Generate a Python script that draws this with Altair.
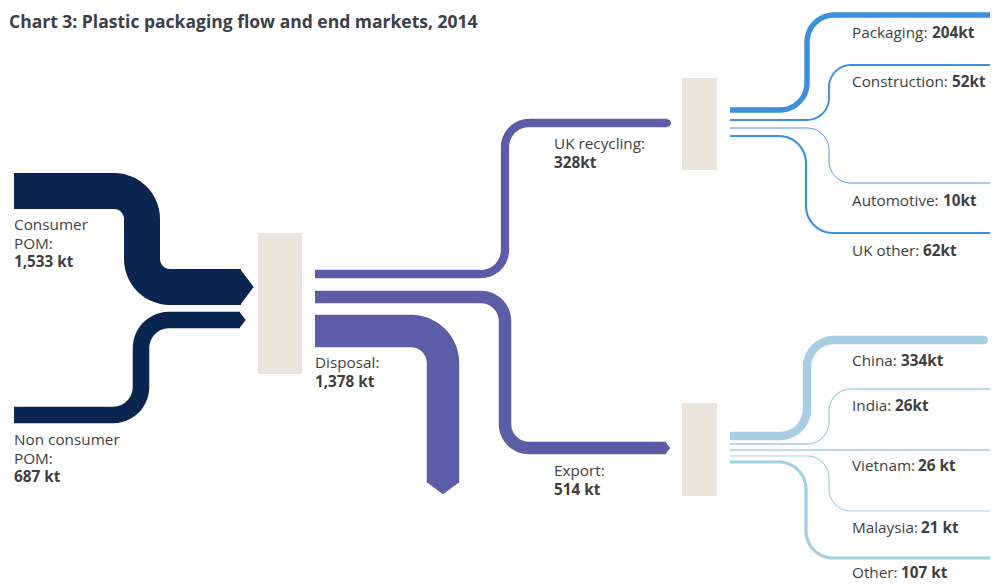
import altair as alt
import numpy as np
import pandas as pd

# ---------------- data ----------------
FLOW_NAMES = ["Consumer POM", "Non consumer POM", "Disposal", "UK recycling", "Export",
              "Packaging", "Construction", "Automotive", "UK other",
              "China", "India", "Vietnam", "Malaysia", "Other"]
FLOW_VALUES = [1533, 687, 1378, 328, 514, 204, 52, 10, 62, 334, 26, 26, 21, 107]
FLOW_GROUP = ["input", "input", "sorted", "sorted", "sorted",
              "uk", "uk", "uk", "uk",
              "export", "export", "export", "export", "export"]
VALUE_LABELS = ["1,533 kt", "687 kt", "1,378 kt", "328kt", "514 kt",
                "204kt", "52kt", "10kt", "62kt",
                "334kt", "26kt", "26 kt", "21 kt", "107 kt"]
LABEL_NAMES = [["Consumer", "POM:"], ["Non consumer", "POM:"], ["Disposal:"], ["UK recycling:"], ["Export:"],
               ["Packaging:"], ["Construction:"], ["Automotive:"], ["UK other:"],
               ["China:"], ["India:"], ["Vietnam:"], ["Malaysia:"], ["Other:"]]
TITLE = "Chart 3: Plastic packaging flow and end markets, 2014"

GROUP_DOMAIN = ["input", "sorted", "uk", "export", "node"]
GROUP_COLORS = ["#0b2551", "#5b5ea6", "#3d8fdb", "#a7cee3", "#e9e5dc"]

# ---------------- layout (pixel space of the picture) ----------------
ROUTES = {
    "Consumer POM": ([(14, 191), (142, 191), (142, 287), (241, 287)], 28),
    "Non consumer POM": ([(14, 415), (141, 415), (141, 320), (240, 320)], 28),
    "Disposal": ([(315, 331), (443, 331), (443, 483)], 32),
    "UK recycling": ([(315, 274), (505, 274), (505, 123), (667, 123)], 24),
    "Export": ([(315, 297), (505, 297), (505, 448), (666, 448)], 24),
    "Packaging": ([(730, 110), (807, 110), (807, 15), (1005, 15)], 27),
    "Construction": ([(730, 120), (829, 120), (829, 65), (1005, 65)], 22),
    "Automotive": ([(730, 128), (829, 128), (829, 183), (1005, 183)], 22),
    "UK other": ([(730, 136), (806, 136), (806, 233), (1005, 233)], 27),
    "China": ([(730, 436), (807, 436), (807, 340), (984, 340)], 27),
    "India": ([(730, 444), (829, 444), (829, 389), (1005, 389)], 22),
    "Vietnam": ([(730, 450), (1005, 450)], 22),
    "Malaysia": ([(730, 456), (829, 456), (829, 511), (1005, 511)], 22),
    "Other": ([(730, 462), (806, 462), (806, 558), (1005, 558)], 27),
}
END_STYLE = {"Consumer POM": "right", "Non consumer POM": "right", "Disposal": "down",
             "Export": "right", "UK recycling": "round", "China": "round"}
NODES = [(258, 302, 233, 374), (682, 717, 78, 170), (682, 717, 403, 496)]
RX = 852
LABEL_POS = {
    "Consumer POM": (14, 225), "Non consumer POM": (14, 440), "Disposal": (315, 363),
    "UK recycling": (554, 144), "Export": (554, 471),
    "Packaging": (RX, 33, 932), "Construction": (RX, 82, 952), "Automotive": (RX, 201, 943),
    "UK other": (RX, 251, 923), "China": (RX, 361, 901), "India": (RX, 406, 895),
    "Vietnam": (RX, 466, 918), "Malaysia": (RX, 528, 921), "Other": (RX, 573, 901),
}
LINE_GAP = 18.5


def rounded(pts, r, n=14):
    pts = [np.array(p, dtype=float) for p in pts]
    out = [pts[0]]
    for i in range(1, len(pts) - 1):
        p0, p1, p2 = pts[i - 1], pts[i], pts[i + 1]
        d1 = (p1 - p0) / np.linalg.norm(p1 - p0)
        d2 = (p2 - p1) / np.linalg.norm(p2 - p1)
        a = p1 - d1 * r
        c = a + d2 * r
        for t in np.linspace(0, np.pi / 2, n):
            out.append(c - d2 * r * np.cos(t) + d1 * r * np.sin(t))
    out.append(pts[-1])
    return out


line_rows, end_rows, text_rows = [], [], []
for name, val, grp, vlab, lnames in zip(FLOW_NAMES, FLOW_VALUES, FLOW_GROUP, VALUE_LABELS, LABEL_NAMES):
    pts, r = ROUTES[name]
    for i, p in enumerate(rounded(pts, r)):
        line_rows.append({"flow": name, "i": i, "x": p[0], "y": p[1], "value": val, "group": grp})
    if name in END_STYLE:
        ex, ey = pts[-1]
        end_rows.append({"flow": name, "x": ex, "y": ey, "value": val, "group": grp, "kind": END_STYLE[name]})
    pos = LABEL_POS[name]
    if len(pos) == 3:
        text_rows.append({"x": pos[0], "y": pos[1], "text": lnames[0], "bold": False})
        text_rows.append({"x": pos[2], "y": pos[1], "text": vlab, "bold": True})
    else:
        for k, ln in enumerate(lnames):
            text_rows.append({"x": pos[0], "y": pos[1] + k * LINE_GAP, "text": ln, "bold": False})
        text_rows.append({"x": pos[0], "y": pos[1] + len(lnames) * LINE_GAP, "text": vlab, "bold": True})

lines = pd.DataFrame(line_rows)
ends = pd.DataFrame(end_rows)
texts = pd.DataFrame(text_rows)
nodes = pd.DataFrame([{"x": a, "x2": b, "y": c, "y2": d, "group": "node"} for a, b, c, d in NODES])
title_df = pd.DataFrame([{"x": 9, "y": 28, "text": TITLE}])

W, H = 982, 576
X = alt.Scale(domain=[8, 8 + W], range=[0, W])
Y = alt.Scale(domain=[8, 8 + H], range=[0, H])
COL = alt.Scale(domain=GROUP_DOMAIN, range=GROUP_COLORS)

x_enc = alt.X("x:Q", scale=X, axis=None)
y_enc = alt.Y("y:Q", scale=Y, axis=None)

node_layer = alt.Chart(nodes).mark_rect().encode(
    x=x_enc, x2="x2:Q", y=y_enc, y2="y2:Q",
    color=alt.Color("group:N", scale=COL, legend=None),
)

flow_layer = alt.Chart(lines).mark_line(strokeCap="butt", strokeJoin="round").encode(
    x=x_enc, y=y_enc,
    detail="flow:N",
    order="i:Q",
    color=alt.Color("group:N", scale=COL, legend=None),
    strokeWidth=alt.StrokeWidth("value:Q", scale=alt.Scale(domain=[0, 1533], range=[0.7, 36]), legend=None),
)

end_layer = alt.Chart(ends).mark_point(filled=True, opacity=1, strokeWidth=0).encode(
    x=x_enc, y=y_enc,
    color=alt.Color("group:N", scale=COL, legend=None),
    size=alt.Size("value:Q", scale=alt.Scale(type="pow", exponent=2, domain=[0, 1533], range=[0, 1296]), legend=None),
    shape=alt.Shape("kind:N", scale=alt.Scale(domain=["right", "down", "round"],
                                             range=["M-0.05,-1L0.7,0L-0.05,1Z", "M-1,-0.05L0,0.7L1,-0.05Z", "circle"]),
                    legend=None),
)

FONT = "Open Sans"
FS = 15.3
text_normal = alt.Chart(texts).transform_filter("!datum.bold").mark_text(
    align="left", baseline="middle", font=FONT, fontSize=FS, color="#3f3f3f"
).encode(x=x_enc, y=y_enc, text="text:N")

text_bold = alt.Chart(texts).transform_filter("datum.bold").mark_text(
    align="left", baseline="middle", font=FONT, fontSize=FS, fontWeight="bold", color="#3f3f3f"
).encode(x=x_enc, y=y_enc, text="text:N")

title_layer = alt.Chart(title_df).mark_text(
    align="left", baseline="alphabetic", font=FONT, fontSize=17.5, fontWeight="bold", color="#3b4049"
).encode(x=x_enc, y=y_enc, text="text:N")

chart = alt.layer(node_layer, flow_layer, end_layer, text_normal, text_bold, title_layer).properties(
    width=W, height=H, padding=0, autosize=alt.AutoSizeParams(type="none"), background="white"
).configure_view(strokeWidth=0)

chart.save("out.html", embed_options={"renderer": "svg", "actions": False})
